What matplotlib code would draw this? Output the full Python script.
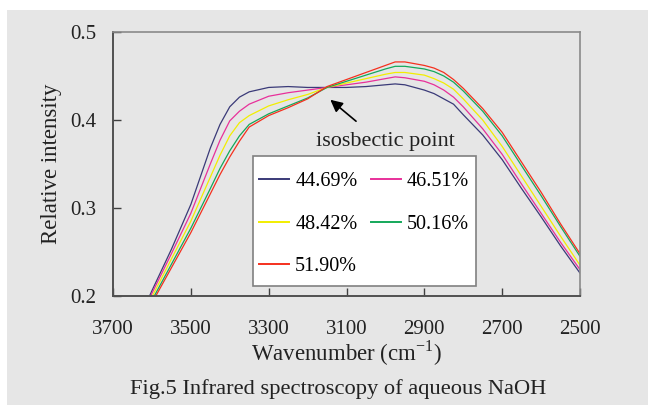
import matplotlib.pyplot as plt
from matplotlib.patches import Rectangle

plt.rcParams['font.family'] = ['Liberation Serif', 'DejaVu Serif']
plt.rcParams['mathtext.fontset'] = 'custom'
plt.rcParams['mathtext.rm'] = 'Liberation Serif'

# wavenumber grid (cm-1) and relative intensity for each NaOH concentration
wavenumber = [3610, 3600, 3550, 3500, 3450, 3425, 3400, 3375, 3350, 3300, 3250, 3200,
              3150, 3100, 3050, 3000, 2975, 2950, 2900, 2875, 2850, 2825, 2800,
              2750, 2700, 2650, 2600, 2550, 2500]

c4469 = [0.196, 0.206, 0.253, 0.304, 0.368, 0.395, 0.415, 0.426, 0.432, 0.437, 0.438, 0.437,
         0.437, 0.437, 0.438, 0.440, 0.441, 0.440, 0.434, 0.430, 0.424, 0.418, 0.406,
         0.383, 0.355, 0.322, 0.290, 0.257, 0.226]
c4651 = [0.193, 0.203, 0.248, 0.294, 0.350, 0.377, 0.399, 0.410, 0.418, 0.427, 0.431, 0.434,
         0.437, 0.440, 0.443, 0.447, 0.449, 0.448, 0.444, 0.440, 0.434, 0.426, 0.415,
         0.390, 0.361, 0.327, 0.294, 0.261, 0.230]
c4842 = [0.190, 0.199, 0.242, 0.285, 0.335, 0.360, 0.382, 0.397, 0.405, 0.416, 0.423, 0.429,
         0.437, 0.442, 0.447, 0.452, 0.454, 0.454, 0.451, 0.447, 0.442, 0.435, 0.424,
         0.400, 0.370, 0.336, 0.302, 0.268, 0.235]
c5016 = [0.187, 0.195, 0.236, 0.277, 0.322, 0.345, 0.365, 0.382, 0.395, 0.407, 0.416, 0.425,
         0.437, 0.444, 0.451, 0.458, 0.461, 0.461, 0.458, 0.455, 0.450, 0.443, 0.433,
         0.410, 0.382, 0.348, 0.314, 0.279, 0.245]
c5190 = [0.184, 0.192, 0.232, 0.272, 0.316, 0.338, 0.358, 0.376, 0.392, 0.405, 0.414, 0.424,
         0.438, 0.446, 0.454, 0.462, 0.466, 0.466, 0.462, 0.459, 0.454, 0.446, 0.436,
         0.413, 0.386, 0.352, 0.318, 0.282, 0.248]

series = [c4469, c4651, c4842, c5016, c5190]
labels = ['44.69%', '46.51%', '48.42%', '50.16%', '51.90%']
colors = ['#3a3a78', '#e8309a', '#f2ee00', '#14a85a', '#f5301e']

xticks = [3700, 3500, 3300, 3100, 2900, 2700, 2500]
yticks = [0.2, 0.3, 0.4, 0.5]

bg = '#e6e6e6'
txt = '#222222'
fig = plt.figure(figsize=(6.48, 4.05), dpi=100)
fig.patch.set_facecolor('white')
fig.add_artist(Rectangle((7 / 648, 0), 1, 1 - 10 / 405, transform=fig.transFigure,
                         facecolor=bg, edgecolor='none', zorder=-1))

ax = fig.add_axes([113 / 648, 1 - 296 / 405, 467 / 648, 264 / 405])
ax.set_facecolor(bg)

lines = []
for vals, lab, col in zip(series, labels, colors):
    ln, = ax.plot(wavenumber, vals, color=col, lw=0.9, label=lab)
    lines.append(ln)

ax.set_xlim(3700, 2500)
ax.set_ylim(0.2, 0.5)
ax.set_xticks(xticks)
ax.set_yticks(yticks)
ax.set_yticklabels(['%.1f' % v for v in yticks])
ax.tick_params(axis='both', direction='in', length=6, width=1, colors='#404040',
               labelsize=15, labelcolor=txt)
ax.tick_params(axis='x', pad=17)
ax.tick_params(axis='y', pad=12)

for side in ['left', 'bottom']:
    ax.spines[side].set_color('#505050')
    ax.spines[side].set_linewidth(1.4)
for side in ['top', 'right']:
    ax.spines[side].set_color('#8a8a8a')
    ax.spines[side].set_linewidth(1.2)

ax.set_xlabel(r'Wavenumber (cm$^{\mathregular{-1}}$)', fontsize=16.5, color=txt, labelpad=0)
ax.set_ylabel('Relative intensity', fontsize=16.5, color=txt, labelpad=6)

# isosbestic point marker
ax.annotate('', xy=(3147, 0.425), xytext=(3070, 0.3966),
            arrowprops=dict(arrowstyle='-|>', color='black', lw=1.2, mutation_scale=18))
ax.text(3000, 0.375, 'isosbectic point', fontsize=16, ha='center', va='center', color=txt)

# legend box drawn over the curves, entries filled row by row
ax.add_patch(Rectangle(((253 - 113) / 467, (296 - 286) / 264), 223 / 467, 130 / 264,
                       transform=ax.transAxes, facecolor='white', edgecolor='#808080',
                       lw=1.2, zorder=4))
order = [0, 2, 4, 1, 3]
leg = ax.legend([lines[i] for i in order], [labels[i] for i in order], ncol=2,
                loc='upper left', bbox_to_anchor=((259 - 113) / 467, (296 - 172) / 264),
                fontsize=14.5, frameon=False, handlelength=1.5, handletextpad=0.3,
                labelspacing=1.16, columnspacing=0.65, borderpad=0, borderaxespad=0)
leg.set_zorder(5)
for h in leg.get_lines():
    h.set_linewidth(1.4)

fig.text(338 / 648, 1 - 389 / 405, 'Fig.5 Infrared spectroscopy of aqueous NaOH',
         fontsize=16.2, ha='center', va='center', color=txt)

fig.savefig('out.png', dpi=100)
